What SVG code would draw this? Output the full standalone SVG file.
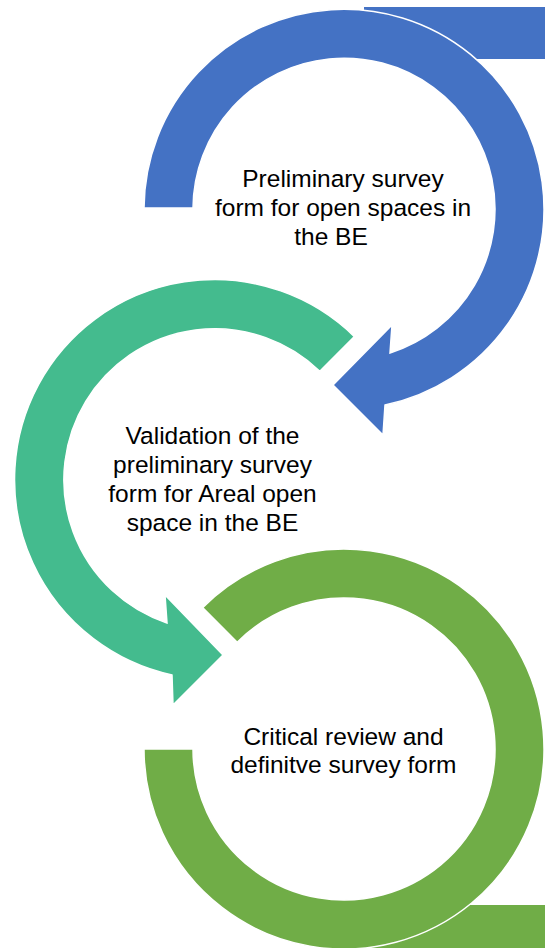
<svg xmlns="http://www.w3.org/2000/svg" width="545" height="948" viewBox="0 0 545 948">
<style>
.lbl{font-family:"Liberation Sans",Arial,sans-serif;font-size:24.5px;fill:#000;text-anchor:middle}
.blue{fill:#4472C4}
.teal{fill:#44BB8E}
.green{fill:#70AD47}
.edge{stroke:#fff;stroke-width:1.5;stroke-linejoin:miter}
</style>
<rect width="545" height="948" fill="#fff"/>
<g id="connectors">
<rect class="blue" x="364" y="7" width="181" height="52"/>
<rect class="green" x="364" y="905" width="181" height="52"/>
</g>
<g id="node1">
<path class="blue edge" d="M 144,208 A 200,200 0 1 1 385,405 L 383,435 L 333,385 L 392,325 L 390,353 A 151,151 0 1 0 193,208 Z"/>
<text class="lbl"><tspan x="343" y="187">Preliminary survey</tspan><tspan x="343" y="216">form for open spaces in</tspan><tspan x="331" y="245">the BE</tspan></text>
</g>
<g id="node2">
<path class="teal edge" d="M 354.4,336.6 A 200,200 0 1 0 172,675 L 173,705 L 223,655 L 165,595 L 167,623 A 151,151 0 1 1 319.8,371.2 Z"/>
<text class="lbl"><tspan x="212.5" y="444">Validation of the</tspan><tspan x="212.5" y="473">preliminary survey</tspan><tspan x="212.5" y="502">form for Areal open</tspan><tspan x="212.5" y="531">space in the BE</tspan></text>
</g>
<g id="node3">
<path class="green edge" d="M 202.6,607.6 A 200,200 0 1 1 144,749 L 193,749 A 151,151 0 1 0 237.2,642.2 Z"/>
<text class="lbl"><tspan x="343.5" y="745">Critical review and</tspan><tspan x="343.5" y="773">definitve survey form</tspan></text>
</g>
</svg>
